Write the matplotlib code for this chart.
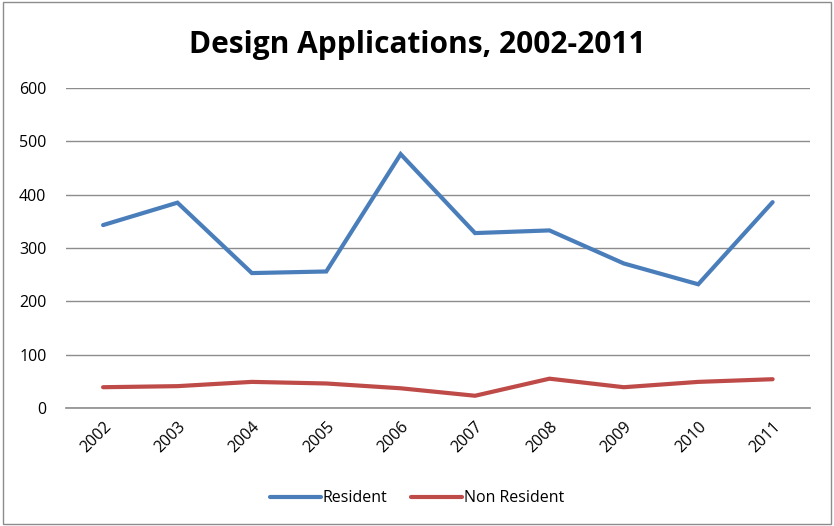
import matplotlib
matplotlib.use("Agg")
import matplotlib.pyplot as plt
from matplotlib.patches import Rectangle

years = ["2002", "2003", "2004", "2005", "2006", "2007", "2008", "2009", "2010", "2011"]
resident = [343, 385, 253, 256, 476, 328, 333, 271, 232, 386]
non_resident = [39, 41, 49, 46, 37, 23, 55, 39, 49, 54]
y_ticks = [0, 100, 200, 300, 400, 500, 600]

plt.rcParams["font.family"] = ["Open Sans", "DejaVu Sans"]

fig = plt.figure(figsize=(8.34, 5.26), dpi=100)
ax = fig.add_axes([0.079, 0.2243, 0.892, 0.6084])

x = list(range(len(years)))
ax.plot(x, resident, color="#4A7EBB", lw=3.0, solid_capstyle="round",
        solid_joinstyle="miter", label="Resident")
ax.plot(x, non_resident, color="#BE4B48", lw=3.0, solid_capstyle="round",
        solid_joinstyle="miter", label="Non Resident")

ax.set_xlim(-0.5, len(years) - 0.5)
ax.set_ylim(0, 600)
ax.set_yticks(y_ticks)
ax.set_yticklabels([str(v) for v in y_ticks], fontsize=11.5)
ax.set_xticks(x)
ax.set_xticklabels(years, rotation=45, fontsize=11.5, ha="right",
                   rotation_mode="anchor")
ax.tick_params(axis="y", length=0, pad=14)
ax.tick_params(axis="x", length=0, pad=8)

ax.grid(axis="y", color="#8C8C8C", lw=1.0)
ax.set_axisbelow(True)
for side in ["top", "right", "left"]:
    ax.spines[side].set_visible(False)
ax.spines["bottom"].set_color("#8C8C8C")
ax.spines["bottom"].set_linewidth(1.2)

fig.text(0.5, 0.915, "Design Applications, 2002-2011", ha="center",
         va="center", fontsize=21.5, fontweight="bold")

fig.legend(loc="center", bbox_to_anchor=(0.5, 0.053), ncol=2, frameon=False,
           fontsize=11.5, handlelength=3.2, handletextpad=0.1, columnspacing=1.5)

fig.patches.append(Rectangle((0.003, 0.003), 0.994, 0.994, transform=fig.transFigure,
                             fill=False, edgecolor="#8C8C8C", lw=1.0))

fig.savefig("out.png", dpi=100)
